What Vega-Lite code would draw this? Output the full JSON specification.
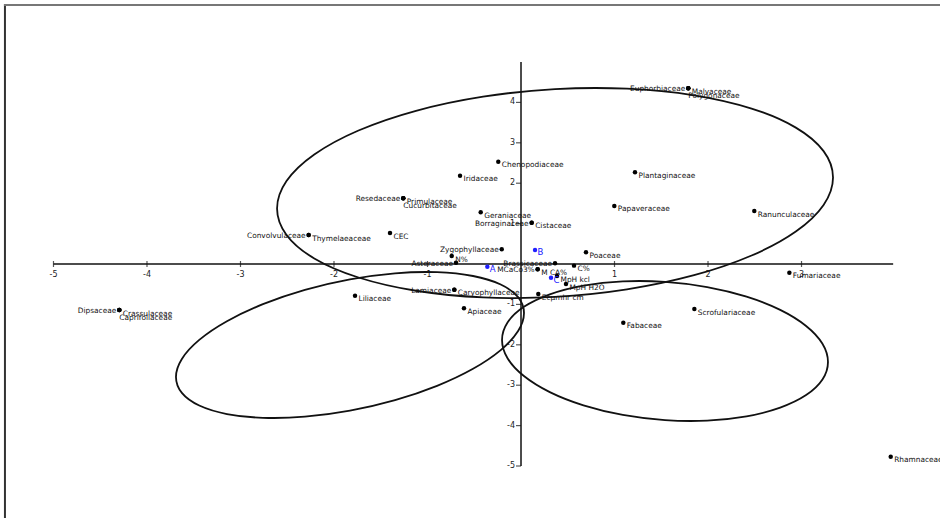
{
  "$schema": "https://vega.github.io/schema/vega-lite/v6.json",
  "width": 940,
  "height": 518,
  "autosize": "none",
  "padding": 0,
  "background": "white",
  "config": {"view": {"stroke": null}, "text": {"font": "DejaVu Sans"}, "axis": {"disable": true}},
  "datasets": {
    "one": [{"k": 1}],
    "pts": [
      {"name": "Dipsaceae", "x": -4.296, "y": -1.139, "grp": "sp"},
      {"name": "Crassulaceae", "x": -4.296, "y": -1.139, "grp": "sp"},
      {"name": "Caprifoliaceae", "x": -4.296, "y": -1.139, "grp": "sp"},
      {"name": "Euphorbiaceae", "x": 1.789, "y": 4.349, "grp": "sp"},
      {"name": "Malvaceae", "x": 1.789, "y": 4.349, "grp": "sp"},
      {"name": "Polygonaceae", "x": 1.789, "y": 4.349, "grp": "sp"},
      {"name": "Chenopodiaceae", "x": -0.243, "y": 2.532, "grp": "sp"},
      {"name": "Iridaceae", "x": -0.652, "y": 2.186, "grp": "sp"},
      {"name": "Resedaceae", "x": -1.259, "y": 1.626, "grp": "sp"},
      {"name": "Primulaceae", "x": -1.259, "y": 1.626, "grp": "sp"},
      {"name": "Cucurbitaceae", "x": -1.259, "y": 1.626, "grp": "sp"},
      {"name": "Geraniaceae", "x": -0.431, "y": 1.28, "grp": "sp"},
      {"name": "Borraginaceae", "x": 0.114, "y": 1.022, "grp": "sp"},
      {"name": "Cistaceae", "x": 0.114, "y": 1.022, "grp": "sp"},
      {"name": "CEC", "x": -1.401, "y": 0.767, "grp": "sp"},
      {"name": "Convolvulaceae", "x": -2.271, "y": 0.718, "grp": "sp"},
      {"name": "Thymelaeaceae", "x": -2.271, "y": 0.718, "grp": "sp"},
      {"name": "Plantaginaceae", "x": 1.219, "y": 2.27, "grp": "sp"},
      {"name": "Papaveraceae", "x": 0.998, "y": 1.436, "grp": "sp"},
      {"name": "Ranunculaceae", "x": 2.495, "y": 1.312, "grp": "sp"},
      {"name": "Zygophyllaceae", "x": -0.206, "y": 0.364, "grp": "sp"},
      {"name": "N%", "x": -0.741, "y": 0.198, "grp": "sp"},
      {"name": "Asteraceae", "x": -0.695, "y": 0.032, "grp": "sp"},
      {"name": "Poaceae", "x": 0.695, "y": 0.29, "grp": "sp"},
      {"name": "Brassicaceae", "x": 0.364, "y": 0.017, "grp": "sp"},
      {"name": "C%", "x": 0.567, "y": -0.04, "grp": "sp"},
      {"name": "MCaCo3%", "x": 0.178, "y": -0.132, "grp": "sp"},
      {"name": "M CA%", "x": 0.178, "y": -0.132, "grp": "sp"},
      {"name": "MpH kcl", "x": 0.385, "y": -0.297, "grp": "sp"},
      {"name": "MpH H2O", "x": 0.481, "y": -0.495, "grp": "sp"},
      {"name": "Ecµmhr cm", "x": 0.185, "y": -0.743, "grp": "sp"},
      {"name": "Fumariaceae", "x": 2.87, "y": -0.215, "grp": "sp"},
      {"name": "Liliaceae", "x": -1.775, "y": -0.785, "grp": "sp"},
      {"name": "Lamiaceae", "x": -0.713, "y": -0.636, "grp": "sp"},
      {"name": "Caryophyllaceae", "x": -0.713, "y": -0.636, "grp": "sp"},
      {"name": "Apiaceae", "x": -0.61, "y": -1.097, "grp": "sp"},
      {"name": "Scrofulariaceae", "x": 1.854, "y": -1.114, "grp": "sp"},
      {"name": "Fabaceae", "x": 1.094, "y": -1.453, "grp": "sp"},
      {"name": "Rhamnaceae", "x": 3.954, "y": -4.769, "grp": "sp"},
      {"name": "A", "x": -0.36, "y": -0.066, "grp": "site"},
      {"name": "B", "x": 0.15, "y": 0.347, "grp": "site"},
      {"name": "C", "x": 0.321, "y": -0.338, "grp": "site"}
    ],
    "ell": [
      {"e": 1, "i": 0, "x": 3.337, "y": 2.141}, {"e": 1, "i": 1, "x": 3.236, "y": 2.794},
      {"e": 1, "i": 2, "x": 2.939, "y": 3.376}, {"e": 1, "i": 3, "x": 2.466, "y": 3.848},
      {"e": 1, "i": 4, "x": 1.851, "y": 4.176}, {"e": 1, "i": 5, "x": 1.133, "y": 4.34},
      {"e": 1, "i": 6, "x": 0.364, "y": 4.329}, {"e": 1, "i": 7, "x": -0.405, "y": 4.142},
      {"e": 1, "i": 8, "x": -1.123, "y": 3.792}, {"e": 1, "i": 9, "x": -1.738, "y": 3.304},
      {"e": 1, "i": 10, "x": -2.211, "y": 2.71}, {"e": 1, "i": 11, "x": -2.508, "y": 2.052},
      {"e": 1, "i": 12, "x": -2.609, "y": 1.373}, {"e": 1, "i": 13, "x": -2.508, "y": 0.72},
      {"e": 1, "i": 14, "x": -2.211, "y": 0.138}, {"e": 1, "i": 15, "x": -1.738, "y": -0.334},
      {"e": 1, "i": 16, "x": -1.123, "y": -0.662}, {"e": 1, "i": 17, "x": -0.405, "y": -0.826},
      {"e": 1, "i": 18, "x": 0.364, "y": -0.815}, {"e": 1, "i": 19, "x": 1.133, "y": -0.628},
      {"e": 1, "i": 20, "x": 1.851, "y": -0.278}, {"e": 1, "i": 21, "x": 2.466, "y": 0.21},
      {"e": 1, "i": 22, "x": 2.939, "y": 0.804}, {"e": 1, "i": 23, "x": 3.236, "y": 1.462},
      {"e": 2, "i": 0, "x": 0.032, "y": -1.213}, {"e": 2, "i": 1, "x": -0.031, "y": -0.82},
      {"e": 2, "i": 2, "x": -0.217, "y": -0.507}, {"e": 2, "i": 3, "x": -0.513, "y": -0.297},
      {"e": 2, "i": 4, "x": -0.898, "y": -0.203}, {"e": 2, "i": 5, "x": -1.347, "y": -0.231},
      {"e": 2, "i": 6, "x": -1.829, "y": -0.381}, {"e": 2, "i": 7, "x": -2.311, "y": -0.641},
      {"e": 2, "i": 8, "x": -2.76, "y": -0.995}, {"e": 2, "i": 9, "x": -3.145, "y": -1.417},
      {"e": 2, "i": 10, "x": -3.441, "y": -1.879}, {"e": 2, "i": 11, "x": -3.627, "y": -2.35},
      {"e": 2, "i": 12, "x": -3.69, "y": -2.797}, {"e": 2, "i": 13, "x": -3.627, "y": -3.19},
      {"e": 2, "i": 14, "x": -3.441, "y": -3.503}, {"e": 2, "i": 15, "x": -3.145, "y": -3.713},
      {"e": 2, "i": 16, "x": -2.76, "y": -3.807}, {"e": 2, "i": 17, "x": -2.311, "y": -3.779},
      {"e": 2, "i": 18, "x": -1.829, "y": -3.629}, {"e": 2, "i": 19, "x": -1.347, "y": -3.369},
      {"e": 2, "i": 20, "x": -0.898, "y": -3.015}, {"e": 2, "i": 21, "x": -0.513, "y": -2.593},
      {"e": 2, "i": 22, "x": -0.217, "y": -2.131}, {"e": 2, "i": 23, "x": -0.031, "y": -1.66},
      {"e": 3, "i": 0, "x": 3.283, "y": -2.425}, {"e": 3, "i": 1, "x": 3.224, "y": -1.973},
      {"e": 3, "i": 2, "x": 3.049, "y": -1.533}, {"e": 3, "i": 3, "x": 2.772, "y": -1.135},
      {"e": 3, "i": 4, "x": 2.412, "y": -0.807}, {"e": 3, "i": 5, "x": 1.991, "y": -0.57},
      {"e": 3, "i": 6, "x": 1.54, "y": -0.442}, {"e": 3, "i": 7, "x": 1.089, "y": -0.43},
      {"e": 3, "i": 8, "x": 0.668, "y": -0.535}, {"e": 3, "i": 9, "x": 0.308, "y": -0.751},
      {"e": 3, "i": 10, "x": 0.031, "y": -1.061}, {"e": 3, "i": 11, "x": -0.144, "y": -1.447},
      {"e": 3, "i": 12, "x": -0.203, "y": -1.881}, {"e": 3, "i": 13, "x": -0.144, "y": -2.333},
      {"e": 3, "i": 14, "x": 0.031, "y": -2.773}, {"e": 3, "i": 15, "x": 0.308, "y": -3.171},
      {"e": 3, "i": 16, "x": 0.668, "y": -3.499}, {"e": 3, "i": 17, "x": 1.089, "y": -3.736},
      {"e": 3, "i": 18, "x": 1.54, "y": -3.864}, {"e": 3, "i": 19, "x": 1.991, "y": -3.876},
      {"e": 3, "i": 20, "x": 2.412, "y": -3.771}, {"e": 3, "i": 21, "x": 2.772, "y": -3.555},
      {"e": 3, "i": 22, "x": 3.049, "y": -3.245}, {"e": 3, "i": 23, "x": 3.224, "y": -2.859}
    ],
    "xt": [
      {"v": -5, "t": "-5"}, {"v": -4, "t": "-4"}, {"v": -3, "t": "-3"}, {"v": -2, "t": "-2"},
      {"v": -1, "t": "-1"}, {"v": 1, "t": "1"}, {"v": 2, "t": "2"}, {"v": 3, "t": "3"}
    ],
    "yt": [
      {"v": 4, "t": "4"}, {"v": 3, "t": "3"}, {"v": 2, "t": "2"}, {"v": 1, "t": "1"},
      {"v": -1, "t": "-1"}, {"v": -2, "t": "-2"}, {"v": -3, "t": "-3"}, {"v": -4, "t": "-4"}, {"v": -5, "t": "-5"}
    ]
  },
  "layer": [
    {
      "data": {"name": "one"},
      "mark": {"type": "rule", "color": "#333333", "strokeWidth": 2},
      "encoding": {
        "x": {"datum": -5.519, "type": "quantitative", "axis": null, "scale": {"domain": [-5.572, 4.481], "nice": false, "zero": false}},
        "y": {"datum": -6.287, "type": "quantitative", "axis": null, "scale": {"domain": [-6.287, 6.535], "nice": false, "zero": false}},
        "y2": {"datum": 6.43}
      }
    },
    {
      "data": {"name": "one"},
      "mark": {"type": "rule", "color": "#777777", "strokeWidth": 2},
      "encoding": {
        "x": {"datum": -5.53, "type": "quantitative", "axis": null, "scale": {"domain": [-5.572, 4.481], "nice": false, "zero": false}},
        "x2": {"datum": 4.481},
        "y": {"datum": 6.411, "type": "quantitative", "axis": null, "scale": {"domain": [-6.287, 6.535], "nice": false, "zero": false}}
      }
    },
    {
      "data": {"name": "one"},
      "mark": {"type": "rule", "color": "#111111", "strokeWidth": 1.5},
      "encoding": {
        "x": {"datum": -5, "type": "quantitative", "axis": null, "scale": {"domain": [-5.572, 4.481], "nice": false, "zero": false}},
        "x2": {"datum": 3.98},
        "y": {"datum": 0, "type": "quantitative", "axis": null, "scale": {"domain": [-6.287, 6.535], "nice": false, "zero": false}}
      }
    },
    {
      "data": {"name": "one"},
      "mark": {"type": "rule", "color": "#111111", "strokeWidth": 1.5},
      "encoding": {
        "x": {"datum": 0, "type": "quantitative", "axis": null, "scale": {"domain": [-5.572, 4.481], "nice": false, "zero": false}},
        "y": {"datum": -5, "type": "quantitative", "axis": null, "scale": {"domain": [-6.287, 6.535], "nice": false, "zero": false}},
        "y2": {"datum": 5}
      }
    },
    {
      "data": {"name": "xt"},
      "mark": {"type": "tick", "orient": "vertical", "size": 6, "thickness": 1.2, "color": "#111111"},
      "encoding": {
        "x": {"field": "v", "type": "quantitative", "axis": null, "scale": {"domain": [-5.572, 4.481], "nice": false, "zero": false}},
        "y": {"datum": 0, "type": "quantitative", "axis": null, "scale": {"domain": [-6.287, 6.535], "nice": false, "zero": false}}
      }
    },
    {
      "data": {"name": "yt"},
      "mark": {"type": "tick", "orient": "horizontal", "size": 5, "thickness": 1.2, "color": "#111111", "xOffset": -2.5},
      "encoding": {
        "x": {"datum": 0, "type": "quantitative", "axis": null, "scale": {"domain": [-5.572, 4.481], "nice": false, "zero": false}},
        "y": {"field": "v", "type": "quantitative", "axis": null, "scale": {"domain": [-6.287, 6.535], "nice": false, "zero": false}}
      }
    },
    {
      "data": {"name": "xt"},
      "mark": {"type": "text", "fontSize": 8, "color": "#222222", "align": "center", "baseline": "middle", "dy": 10.5},
      "encoding": {
        "x": {"field": "v", "type": "quantitative", "axis": null, "scale": {"domain": [-5.572, 4.481], "nice": false, "zero": false}},
        "y": {"datum": 0, "type": "quantitative", "axis": null, "scale": {"domain": [-6.287, 6.535], "nice": false, "zero": false}},
        "text": {"field": "t"}
      }
    },
    {
      "data": {"name": "yt"},
      "mark": {"type": "text", "fontSize": 8, "color": "#222222", "align": "right", "baseline": "middle", "dx": -6},
      "encoding": {
        "x": {"datum": 0, "type": "quantitative", "axis": null, "scale": {"domain": [-5.572, 4.481], "nice": false, "zero": false}},
        "y": {"field": "v", "type": "quantitative", "axis": null, "scale": {"domain": [-6.287, 6.535], "nice": false, "zero": false}},
        "text": {"field": "t"}
      }
    },
    {
      "data": {"name": "ell"},
      "mark": {"type": "line", "color": "#111111", "strokeWidth": 1.8, "interpolate": "cardinal-closed"},
      "encoding": {
        "x": {"field": "x", "type": "quantitative", "axis": null, "scale": {"domain": [-5.572, 4.481], "nice": false, "zero": false}},
        "y": {"field": "y", "type": "quantitative", "axis": null, "scale": {"domain": [-6.287, 6.535], "nice": false, "zero": false}},
        "detail": {"field": "e"},
        "order": {"field": "i", "type": "quantitative"}
      }
    },
    {
      "data": {"name": "pts"},
      "mark": {"type": "circle", "size": 20, "opacity": 1},
      "encoding": {
        "x": {"field": "x", "type": "quantitative", "axis": null, "scale": {"domain": [-5.572, 4.481], "nice": false, "zero": false}},
        "y": {"field": "y", "type": "quantitative", "axis": null, "scale": {"domain": [-6.287, 6.535], "nice": false, "zero": false}},
        "color": {"field": "grp", "type": "nominal", "scale": {"domain": ["sp", "site"], "range": ["#000000", "#2020ff"]}, "legend": null}
      }
    },
    {
      "data": {"name": "pts"},
      "transform": [{"filter": {"not": {"field": "name", "oneOf": ["Dipsaceae", "Euphorbiaceae", "Resedaceae", "Convolvulaceae", "Borraginaceae", "Zygophyllaceae", "Asteraceae", "Lamiaceae", "Brassicaceae", "MCaCo3%", "Caprifoliaceae", "Polygonaceae", "Cucurbitaceae", "A", "B", "C"]}}}],
      "mark": {"type": "text", "fontSize": 7.4, "color": "#111111", "align": "left", "baseline": "middle", "dx": 3.5, "dy": 3.5},
      "encoding": {
        "x": {"field": "x", "type": "quantitative", "axis": null, "scale": {"domain": [-5.572, 4.481], "nice": false, "zero": false}},
        "y": {"field": "y", "type": "quantitative", "axis": null, "scale": {"domain": [-6.287, 6.535], "nice": false, "zero": false}},
        "text": {"field": "name"}
      }
    },
    {
      "data": {"name": "pts"},
      "transform": [{"filter": {"field": "name", "oneOf": ["Dipsaceae", "Euphorbiaceae", "Resedaceae", "Convolvulaceae", "Borraginaceae", "Zygophyllaceae", "Asteraceae", "Lamiaceae", "Brassicaceae", "MCaCo3%"]}}],
      "mark": {"type": "text", "fontSize": 7.4, "color": "#111111", "align": "right", "baseline": "middle", "dx": -3, "dy": 1},
      "encoding": {
        "x": {"field": "x", "type": "quantitative", "axis": null, "scale": {"domain": [-5.572, 4.481], "nice": false, "zero": false}},
        "y": {"field": "y", "type": "quantitative", "axis": null, "scale": {"domain": [-6.287, 6.535], "nice": false, "zero": false}},
        "text": {"field": "name"}
      }
    },
    {
      "data": {"name": "pts"},
      "transform": [{"filter": {"field": "name", "oneOf": ["Caprifoliaceae", "Polygonaceae", "Cucurbitaceae"]}}],
      "mark": {"type": "text", "fontSize": 7.4, "color": "#111111", "align": "left", "baseline": "middle", "dx": 0, "dy": 7.5},
      "encoding": {
        "x": {"field": "x", "type": "quantitative", "axis": null, "scale": {"domain": [-5.572, 4.481], "nice": false, "zero": false}},
        "y": {"field": "y", "type": "quantitative", "axis": null, "scale": {"domain": [-6.287, 6.535], "nice": false, "zero": false}},
        "text": {"field": "name"}
      }
    },
    {
      "data": {"name": "pts"},
      "transform": [{"filter": {"field": "grp", "equal": "site"}}],
      "mark": {"type": "text", "fontSize": 8.5, "color": "#2020ff", "align": "left", "baseline": "middle", "dx": 2.5, "dy": 2.5},
      "encoding": {
        "x": {"field": "x", "type": "quantitative", "axis": null, "scale": {"domain": [-5.572, 4.481], "nice": false, "zero": false}},
        "y": {"field": "y", "type": "quantitative", "axis": null, "scale": {"domain": [-6.287, 6.535], "nice": false, "zero": false}},
        "text": {"field": "name"}
      }
    }
  ]
}
